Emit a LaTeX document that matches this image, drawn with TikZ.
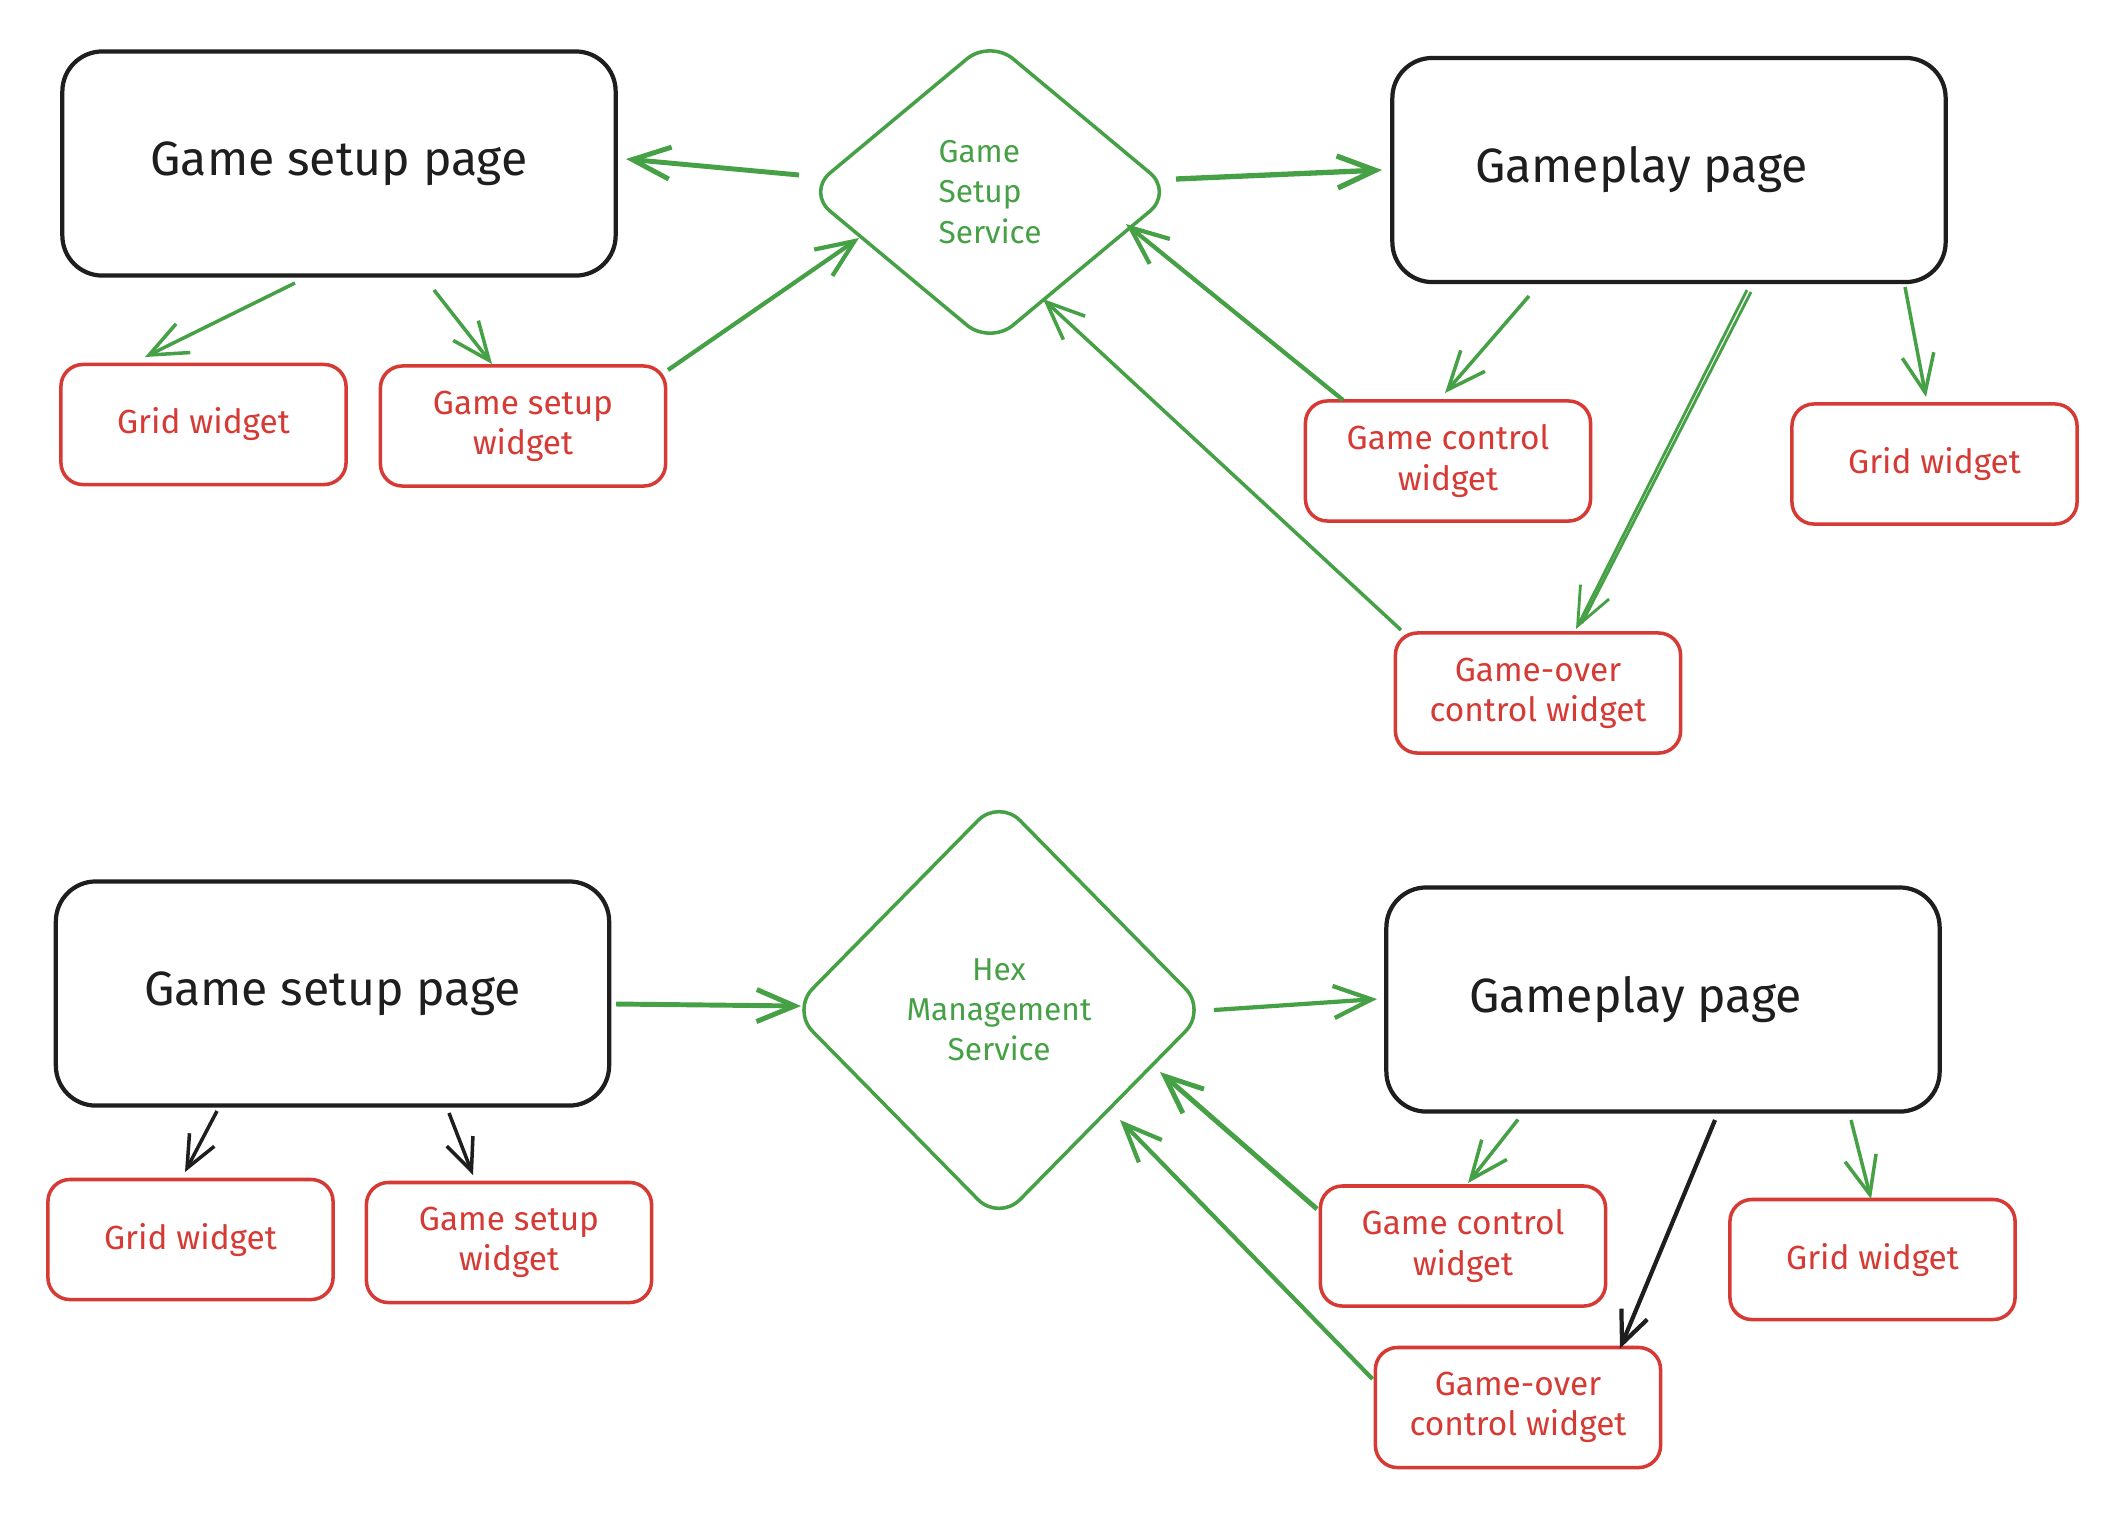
\documentclass[tikz,border=0pt]{standalone}
\usepackage{fontspec}
\setmainfont{Fira Sans}
\usetikzlibrary{shapes.geometric,arrows.meta}
\definecolor{ink}{HTML}{1E1E1E}
\definecolor{wred}{HTML}{D63A35}
\definecolor{sgreen}{HTML}{46A046}
\begin{document}
\begin{tikzpicture}[x=0.01cm,y=-0.01cm,
  page/.style={draw=ink,line width=1.2pt,rounded corners=4mm,minimum width=5.53cm,minimum height=2.24cm,inner sep=0pt,font=\fontsize{13.7}{16}\selectfont,text=ink},
  widget/.style={draw=wred,line width=1pt,rounded corners=2.2mm,minimum width=2.85cm,minimum height=1.2cm,inner sep=0pt,align=center,font=\fontsize{9.5}{11.4}\selectfont,text=wred},
  svc/.style={diamond,draw=sgreen,line width=1pt,rounded corners=3mm,inner sep=0pt,align=center,font=\fontsize{9}{11.4}\selectfont,text=sgreen},
  ga/.style={draw=sgreen,line width=1pt,-{Straight Barb[length=3.8mm,width=3.2mm]}},
  gline/.style={draw=sgreen,line width=0.8pt},
  ba/.style={draw=ink,line width=1pt,-{Straight Barb[length=3.2mm,width=2.8mm]}},
]
\fill[white] (0,0) rectangle (2112,1514);
\useasboundingbox (0,0) rectangle (2112,1514);

% ---------- top diagram ----------
\node[page] (gsp1) at (339,163.5) {Game setup page};
\node[svc,align=left,minimum width=3.67cm,minimum height=3.06cm] (gss) at (990,192) {Game\\Setup\\Service};
\node[page] (gp1) at (1669,170) {Gameplay page\kern0.55cm};
\node[widget] (gw1) at (203.5,424.5) {Grid widget};
\node[widget] (gsw1) at (523,426) {Game setup\\widget};
\node[widget] (gcw1) at (1448,461) {Game control\\widget};
\node[widget] (gw2) at (1934.5,464) {Grid widget};
\node[widget] (gow1) at (1538,693) {Game-over\\control widget};

\draw[ga,line width=1.4pt] ([shift={(-191,-17)}]gss.center) -- ([shift={(287,-4.5)}]gsp1.center);
\draw[ga] ([shift={(-44,119.5)}]gsp1.center) -- ([shift={(-58.5,-67.5)}]gw1.center);
\draw[ga] ([shift={(95,126.5)}]gsp1.center) -- ([shift={(-31,-62)}]gsw1.center);
\draw[ga,line width=1.2pt] ([shift={(145,-56)}]gsw1.center) -- ([shift={(-131,46)}]gss.center);
\draw[ga,line width=1.5pt] ([shift={(186,-13)}]gss.center) -- ([shift={(-287,0)}]gp1.center);
\draw[ga] ([shift={(-140,126)}]gp1.center) -- ([shift={(-3,-68)}]gcw1.center);
\draw[ga,line width=1.2pt] ([shift={(-105,-61)}]gcw1.center) -- ([shift={(136,32)}]gss.center);
\draw[ga,line width=0.8pt] ([shift={(78,120)}]gp1.center) -- ([shift={(38,-64)}]gow1.center);
\draw[gline] ([shift={(82,122)}]gp1.center) -- ([shift={(44,-70)}]gow1.center);
\draw[ga] ([shift={(-137,-63)}]gow1.center) -- ([shift={(53,107)}]gss.center);
\draw[ga] ([shift={(236,117)}]gp1.center) -- ([shift={(-8.5,-67)}]gw2.center);

% ---------- bottom diagram ----------
\node[page] (gsp2) at (332.5,993.5) {Game setup page};
\node[svc,minimum width=4.16cm,minimum height=4.23cm] (hms) at (999,1010) {Hex\\Management\\Service};
\node[page] (gp2) at (1663,999.5) {Gameplay page\kern0.55cm};
\node[widget] (gw3) at (190.5,1239.5) {Grid widget};
\node[widget] (gsw2) at (509,1242.5) {Game setup\\widget};
\node[widget] (gcw2) at (1463,1246) {Game control\\widget};
\node[widget] (gw4) at (1872.5,1259.5) {Grid widget};
\node[widget] (gow2) at (1518,1407.5) {Game-over\\control widget};

\draw[ga,line width=1.4pt] ([shift={(283.5,10.5)}]gsp2.center) -- ([shift={(-198,-4)}]hms.center);
\draw[ga,line width=1.2pt] ([shift={(215,0)}]hms.center) -- ([shift={(-286,-0.5)}]gp2.center);
\draw[ba] ([shift={(-115.5,117.5)}]gsp2.center) -- ([shift={(-5.5,-67.5)}]gw3.center);
\draw[ba] ([shift={(116.5,119.5)}]gsp2.center) -- ([shift={(-36,-67.5)}]gsw2.center);
\draw[ga] ([shift={(-145,120)}]gp2.center) -- ([shift={(5,-63)}]gcw2.center);
\draw[ba,line width=1.2pt] ([shift={(52,120.5)}]gp2.center) -- ([shift={(102,-59)}]gow2.center);
\draw[ga] ([shift={(188,120.5)}]gp2.center) -- ([shift={(-1.5,-60.5)}]gw4.center);
\draw[ga,line width=1.4pt] ([shift={(-146,-37)}]gcw2.center) -- ([shift={(161,62)}]hms.center);
\draw[ga,line width=1.2pt] ([shift={(-145.5,-28.5)}]gow2.center) -- ([shift={(121,110)}]hms.center);
\end{tikzpicture}
\end{document}
